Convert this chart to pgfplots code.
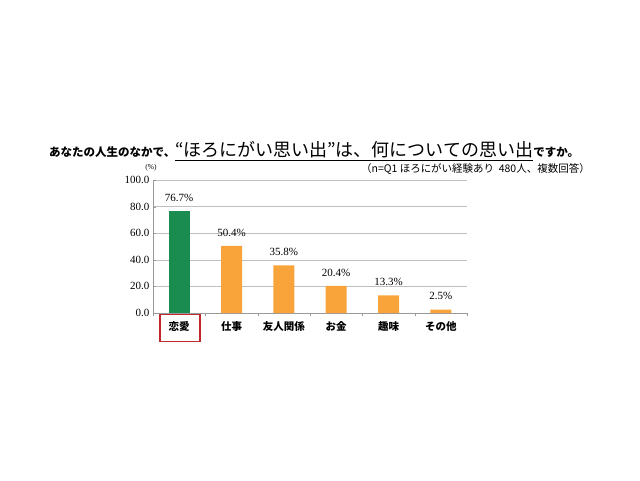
\documentclass[border=0pt]{standalone}
\usepackage{fontspec}
\setmainfont{Liberation Serif}
\newfontfamily\cjk{Noto Sans CJK JP}
\usepackage{pgfplots}
\pgfplotsset{compat=1.18}
\definecolor{love}{HTML}{1A8C4F}
\definecolor{other}{HTML}{F9A43A}
\definecolor{redbox}{HTML}{C0282D}
\definecolor{gridc}{HTML}{BFBFBF}

\begin{document}
\begin{tikzpicture}
\path[use as bounding box] (0pt,0pt) rectangle (640pt,480pt);
% title
\node[anchor=base west, inner sep=0pt] at (49pt,323pt)
  {\cjk\fontsize{11.5}{12}\selectfont\bfseries あなたの人生のなかで、{\mdseries\fontsize{18}{20}\selectfont\underline{“ほろにがい思い出”は、何についての思い出}}ですか。};
\node[anchor=base east, inner sep=0pt] at (590pt,307pt)
  {\cjk\fontsize{10.5}{11}\selectfont （n=Q1 ほろにがい経験あり\ \ 480人、複数回答）};
\node[inner sep=0pt] at (151pt,312pt) {\fontsize{7.5}{8}\selectfont (\%)};
\begin{axis}[
  at={(153pt,167pt)}, anchor=south west,
  scale only axis,
  width=314pt, height=133pt,
  ymin=0, ymax=100,
  xmin=-0.5, xmax=5.5,
  ybar, bar width=21pt, bar shift=0pt,
  axis x line*=bottom, axis y line*=left,
  axis line style={-, draw=gray!80},
  ytick={0,20,...,100},
  yticklabel style={font=\fontsize{11}{11}\selectfont,
    /pgf/number format/fixed, /pgf/number format/fixed zerofill,
    /pgf/number format/precision=1, /pgf/number format/assume math mode=true},
  ymajorgrids, grid style={gridc, line width=0.6pt},
  major tick length=3pt, minor tick length=3pt,
  tick style={gray!80},
  xtick={0,...,5},
  major x tick style={draw=none},
  minor xtick={-0.5,0.5,...,5.5},
  xticklabels={恋愛,仕事,友人関係,お金,趣味,その他},
  xticklabel style={font=\cjk\bfseries\fontsize{10.5}{11}\selectfont, yshift=-2pt},
  nodes near coords={\pgfmathprintnumber[fixed, precision=1, assume math mode=true]{\pgfplotspointmeta}\%},
  every node near coord/.append style={font=\fontsize{11}{11}\selectfont, black, yshift=6pt},
  clip=false,
]
\addplot[fill=love, draw=none] coordinates {(0,76.7)};
\addplot[fill=other, draw=none] coordinates {(1,50.4) (2,35.8) (3,20.4) (4,13.3) (5,2.5)};
\draw[redbox, line width=1.2pt] (axis cs:-0.366,-1.3) rectangle (axis cs:0.398,-21.5);
\end{axis}
\end{tikzpicture}
\end{document}
